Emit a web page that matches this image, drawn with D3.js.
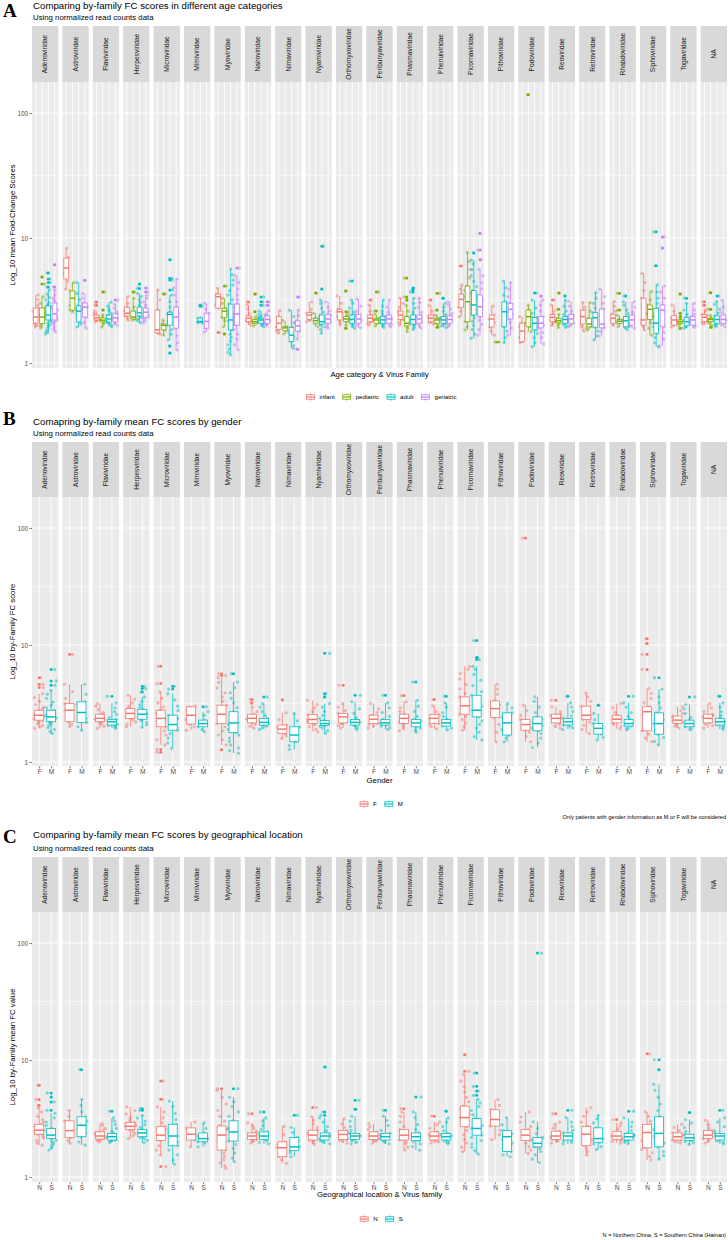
<!DOCTYPE html>
<html>
<head>
<meta charset="utf-8">
<script src="https://cdn.jsdelivr.net/npm/d3@7"></script>
<style>
  body { margin: 0; background: #fff; }
  svg { display: block; }
</style>
</head>
<body>
<div id="chart"></div>
<script>
const W = 728, H = 1240;
const FONT = "'Liberation Sans', Arial, Helvetica, sans-serif";

const families = ["Adenoviridae", "Astroviridae", "Flaviviridae", "Herpesviridae", "Microviridae",
  "Mimiviridae", "Myoviridae", "Nairoviridae", "Nimaviridae", "Nyamiviridae", "Orthomyxoviridae",
  "Peribunyaviridae", "Phasmaviridae", "Phenuiviridae", "Picornaviridae", "Pithoviridae",
  "Podoviridae", "Reoviridae", "Retroviridae", "Rhabdoviridae", "Siphoviridae", "Togaviridae", "NA"];
const ageGroups = ["infant", "pediatric", "adult", "geriatric"];
const genderGroups = ["F", "M"];
const regionGroups = ["N", "S"];
const yTicks = [1, 10, 100];
const yMinor = [3.162, 31.62];

// box stats per family: [lower whisker, q1, median, q3, upper whisker]
const ageStats = [
  [[1.94,2.09,2.33,2.75,3.5],[1.9,2.07,2.33,2.75,3.4],[1.71,2.21,2.42,2.86,3.84],[1.77,2.21,2.47,3.02,3.84]],
  [[3.9,4.7,5.75,6.9,8.3],[2.56,2.65,3.3,3.77,4.4],[1.94,2.13,2.6,2.86,4.4],[1.9,2.33,2.8,3.02,3.6]],
  [[2.13,2.21,2.3,2.42,2.6],[1.94,2.13,2.2,2.29,2.5],[1.95,2.13,2.25,2.42,3.07],[2.0,2.13,2.3,2.47,2.95]],
  [[2.2,2.38,2.5,2.8,3.4],[2.2,2.25,2.33,2.6,3.3],[2.1,2.38,2.52,2.8,3.6],[2.1,2.33,2.55,2.75,3.5]],
  [[1.7,1.74,1.84,2.65,3.84],[1.67,1.84,2.0,2.05,2.2],[1.53,2.01,2.45,2.55,3.5],[1.27,1.9,2.33,2.8,4.7]],
  [null,null,[2.09,2.1,2.15,2.29,2.3],[1.77,1.9,2.15,2.5,3.0]],
  [[2.75,2.75,3.39,3.56,3.98],[1.95,2.32,2.6,2.74,3.3],[1.16,1.84,2.21,2.96,5.65],[1.27,2.01,2.47,2.96,5.0]],
  [[2.01,2.14,2.28,2.38,2.91],[1.98,2.08,2.14,2.23,2.35],[1.95,2.08,2.21,2.28,2.6],[1.98,2.08,2.23,2.38,2.62]],
  [[1.73,1.86,2.08,2.35,2.62],[1.71,1.81,1.91,1.95,2.18],[1.31,1.48,1.67,1.93,2.65],[1.55,1.8,1.98,2.17,2.65]],
  [[2.14,2.23,2.42,2.53,3.09],[1.95,2.08,2.18,2.28,2.5],[1.73,2.05,2.14,2.42,3.19],[1.9,2.08,2.25,2.45,3.09]],
  [[2.01,2.21,2.57,2.69,3.44],[2.0,2.14,2.25,2.35,2.45],[1.9,2.08,2.23,2.42,3.19],[1.92,2.08,2.25,2.45,3.25]],
  [[2.0,2.14,2.28,2.42,2.9],[1.98,2.08,2.21,2.28,2.45],[1.92,2.08,2.21,2.35,3.19],[1.95,2.08,2.25,2.42,3.19]],
  [[2.01,2.23,2.42,2.6,3.3],[1.78,1.98,2.08,2.35,2.9],[1.85,2.05,2.23,2.42,3.3],[1.9,2.08,2.25,2.42,3.3]],
  [[2.05,2.14,2.28,2.42,2.9],[2.0,2.08,2.21,2.28,2.4],[1.92,2.08,2.21,2.35,3.0],[1.95,2.08,2.23,2.38,3.09]],
  [[2.35,2.79,3.23,3.56,4.21],[1.84,2.14,3.09,4.13,7.68],[1.58,2.42,2.91,3.79,6.67],[1.67,2.35,2.82,3.5,5.62]],
  [[1.67,1.94,2.25,2.42,2.86],[1.47,1.47,1.47,1.47,1.47],[1.45,1.95,2.57,3.09,4.53],[1.67,2.25,2.69,3.0,4.42]],
  [[1.45,1.48,1.8,2.08,2.35],[1.78,1.95,2.35,2.65,2.91],[1.35,1.84,2.08,2.32,3.19],[1.42,1.91,2.08,2.35,3.19]],
  [[2.0,2.14,2.32,2.45,2.91],[1.92,2.1,2.18,2.28,2.45],[1.92,2.08,2.23,2.35,3.19],[1.95,2.08,2.25,2.45,3.12]],
  [[1.8,2.05,2.35,2.65,3.05],[1.84,1.95,2.05,2.28,3.05],[1.53,1.93,2.3,2.53,3.65],[1.64,1.91,2.05,2.7,3.9]],
  [[2.0,2.08,2.28,2.46,3.12],[1.95,2.08,2.16,2.23,2.4],[1.85,1.95,2.18,2.35,3.09],[1.9,2.01,2.21,2.42,3.09]],
  [[1.84,2.01,2.21,3.3,5.22],[1.67,2.23,2.69,2.91,3.74],[1.35,1.73,2.08,2.74,4.21],[1.37,1.95,2.65,2.91,4.13]],
  [[1.95,2.01,2.21,2.39,2.91],[2.0,2.08,2.14,2.21,2.3],[1.9,1.98,2.14,2.32,3.0],[1.92,2.01,2.21,2.35,3.0]],
  [[2.05,2.14,2.32,2.45,2.7],[2.0,2.14,2.23,2.28,2.4],[1.95,2.08,2.23,2.38,3.12],[1.95,2.08,2.23,2.42,3.19]]
];
const ageOutliers = [
  [[],[4.87,4.28],[5.25,4.7,4.4,4.05],[6.1,4.05]], [[],[],[],[4.6]], [[2.9,3.07],[3.7,2.65],[],[3.19]],
  [[],[3.7],[4.28,3.95],[3.98,3.7]], [[],[3.57],[6.7,4.76,4.61,3.84,1.37,1.2],[]], [[],[],[2.9,2.85],[]],
  [[1.75],[4.13,1.71],[],[5.75]], [[3.08],[3.56,2.57],[3.38,3.09,2.9],[3.09,2.9]], [[],[],[],[3.38,1.29]],
  [[],[3.63],[8.6,3.9],[]], [[],[3.77,2.57,1.9],[4.53],[]], [[3.19],[3.7,2.61],[],[]],
  [[],[4.78,3.38,3.19],[3.98,3.84,3.7],[]], [[3.19],[3.61,2.65,1.93],[3.3],[]], [[5.97],[],[7.6],[10.9,8.0,6.7]],
  [[],[],[],[]], [[],[140],[3.63],[3.43]], [[3.19],[3.63,2.69],[3.44],[]], [[],[],[],[]],
  [[],[3.61,2.65],[3.44],[]], [[],[],[11.2,6.0],[10.2,8.3]], [[],[3.56,2.5,2.35,1.9],[3.3],[]],
  [[3.09,2.9],[3.65,2.69,1.93],[3.44],[]]
];
const agePoints = [
  ["1.94 2.0 2.05 2.1 2.2 2.3 2.33 2.45 2.6 2.75 2.9 3.2 3.5", "1.9 1.98 2.07 2.2 2.33 2.45 2.6 2.75 3.0 3.4 4.28 4.87",
   "1.71 1.76 1.82 1.9 1.96 2.02 2.08 2.14 2.2 2.26 2.32 2.38 2.42 2.48 2.55 2.62 2.7 2.78 2.86 2.95 3.05 3.2 3.35 3.55 3.84 4.05 4.4 4.7 5.25",
   "1.77 1.86 1.95 2.05 2.12 2.2 2.27 2.35 2.42 2.5 2.58 2.66 2.76 2.88 3.02 3.15 3.3 3.5 3.84 4.05 6.1"],
  ["3.9 4.5 5.2 5.75 6.3 7.0 8.3", "2.56 2.65 2.9 3.3 3.5 3.77 4.4", "1.94 2.05 2.13 2.3 2.45 2.6 2.7 2.86 3.2 3.6 4.4", "1.9 2.1 2.33 2.5 2.7 2.8 2.95 3.02 3.3 3.6 4.6"],
  ["2.13 2.18 2.21 2.26 2.3 2.35 2.42 2.5 2.6 2.9 3.07", "1.94 2.05 2.13 2.2 2.25 2.29 2.4 2.65 3.7",
   "1.95 2.0 2.06 2.1 2.13 2.17 2.2 2.23 2.26 2.3 2.34 2.38 2.42 2.5 2.6 2.7 2.85 3.07", "2.0 2.06 2.13 2.18 2.24 2.3 2.36 2.42 2.47 2.58 2.75 2.95 3.19"],
  ["2.2 2.3 2.38 2.45 2.5 2.6 2.7 2.8 3.0 3.4", "2.2 2.25 2.3 2.33 2.45 2.6 2.8 3.3 3.7",
   "2.1 2.18 2.25 2.32 2.38 2.44 2.5 2.56 2.62 2.7 2.8 2.9 3.05 3.2 3.4 3.6 3.95 4.28", "2.1 2.2 2.28 2.33 2.42 2.5 2.55 2.62 2.7 2.75 2.9 3.1 3.3 3.5 3.7 3.98"],
  ["1.7 1.74 1.84 1.9 2.2 2.65 3.2 3.84", "1.67 1.84 1.95 2.0 2.05 2.2 3.57",
   "1.2 1.37 1.53 1.7 1.85 2.01 2.15 2.3 2.45 2.5 2.55 2.8 3.1 3.5 3.84 4.61 4.76 6.7", "1.27 1.45 1.65 1.9 2.05 2.2 2.33 2.5 2.65 2.8 3.1 3.5 4.0 4.7"],
  [null, null, "2.09 2.1 2.15 2.2 2.29 2.3 2.85 2.9", "1.77 1.9 2.0 2.15 2.3 2.5 2.7 3.0"],
  ["1.75 2.75 2.9 3.2 3.39 3.5 3.56 3.98", "1.71 1.95 2.2 2.32 2.45 2.6 2.7 2.74 3.0 3.3 4.13",
   "1.16 1.22 1.3 1.4 1.5 1.6 1.7 1.84 1.95 2.05 2.15 2.21 2.3 2.45 2.6 2.75 2.96 3.2 3.5 3.8 4.2 4.6 5.1 5.65", "1.27 1.4 1.55 1.7 1.85 2.01 2.15 2.3 2.47 2.6 2.8 2.96 3.2 3.5 3.9 4.4 5.0 5.75"],
  ["2.01 2.08 2.14 2.2 2.28 2.33 2.38 2.5 2.7 2.91 3.08", "1.98 2.08 2.12 2.14 2.2 2.23 2.35 2.57 3.56",
   "1.95 2.0 2.04 2.08 2.11 2.14 2.17 2.21 2.24 2.28 2.32 2.38 2.45 2.6 2.9 3.09 3.38", "1.98 2.03 2.08 2.13 2.18 2.23 2.28 2.33 2.38 2.45 2.62 2.9 3.09"],
  ["1.73 1.8 1.86 1.95 2.08 2.2 2.35 2.62", "1.71 1.81 1.88 1.91 1.95 2.18", "1.31 1.38 1.48 1.55 1.62 1.67 1.74 1.82 1.93 2.1 2.35 2.65", "1.29 1.55 1.8 1.9 1.98 2.08 2.17 2.4 2.65 3.38"],
  ["2.14 2.2 2.23 2.3 2.42 2.5 2.53 2.7 3.09", "1.95 2.08 2.14 2.18 2.23 2.28 2.5 3.63",
   "1.73 1.85 1.95 2.02 2.05 2.1 2.14 2.18 2.22 2.28 2.35 2.42 2.55 2.75 3.0 3.19 3.9 8.6", "1.9 1.98 2.08 2.14 2.2 2.25 2.32 2.4 2.45 2.6 2.8 3.09"],
  ["2.01 2.1 2.21 2.35 2.5 2.57 2.65 2.69 3.0 3.44", "1.9 2.0 2.14 2.2 2.25 2.3 2.35 2.45 2.57 3.77",
   "1.9 1.97 2.04 2.08 2.12 2.17 2.23 2.28 2.34 2.42 2.55 2.75 3.0 3.19 4.53", "1.92 2.0 2.08 2.15 2.2 2.25 2.32 2.4 2.45 2.6 2.85 3.25"],
  ["2.0 2.08 2.14 2.2 2.28 2.35 2.42 2.6 2.9 3.19", "1.98 2.08 2.14 2.21 2.25 2.28 2.45 2.61 3.7",
   "1.92 1.98 2.04 2.08 2.13 2.18 2.21 2.25 2.3 2.35 2.45 2.6 2.85 3.19", "1.95 2.02 2.08 2.14 2.2 2.25 2.3 2.36 2.42 2.55 2.8 3.19"],
  ["2.01 2.1 2.23 2.3 2.42 2.5 2.6 2.8 3.0 3.3", "1.78 1.9 1.98 2.05 2.08 2.2 2.35 2.6 2.9 3.19 3.38 4.78",
   "1.85 1.92 2.0 2.05 2.1 2.16 2.23 2.28 2.34 2.42 2.55 2.75 3.0 3.3 3.7 3.84 3.98", "1.9 1.98 2.08 2.14 2.2 2.25 2.32 2.42 2.55 2.8 3.05 3.3"],
  ["2.05 2.1 2.14 2.2 2.28 2.34 2.42 2.6 2.9 3.19", "1.93 2.0 2.08 2.15 2.21 2.28 2.4 2.65 3.61",
   "1.92 1.98 2.04 2.08 2.13 2.18 2.21 2.26 2.3 2.35 2.45 2.6 2.8 3.0 3.3", "1.95 2.02 2.08 2.14 2.2 2.23 2.3 2.38 2.5 2.7 2.9 3.09"],
  ["2.35 2.6 2.79 3.0 3.23 3.4 3.56 3.9 4.21 5.97", "1.84 1.95 2.14 2.4 2.7 3.09 3.4 3.8 4.13 4.8 5.6 6.5 7.68",
   "1.58 1.7 1.85 2.0 2.15 2.3 2.42 2.55 2.7 2.8 2.91 3.05 3.2 3.4 3.6 3.79 4.1 4.5 5.0 5.6 6.2 6.67 7.6", "1.67 1.85 2.05 2.2 2.35 2.5 2.65 2.82 3.0 3.2 3.5 3.9 4.4 5.0 5.62 6.7 8.0 10.9"],
  ["1.67 1.8 1.94 2.1 2.25 2.35 2.42 2.86", "1.47 1.47", "1.45 1.6 1.8 1.95 2.2 2.4 2.57 2.8 3.09 3.5 4.0 4.53", "1.67 1.9 2.1 2.25 2.45 2.69 2.85 3.0 3.4 3.9 4.42"],
  ["1.45 1.48 1.6 1.8 1.95 2.08 2.35", "1.78 1.95 2.1 2.35 2.5 2.65 2.91 140",
   "1.35 1.45 1.6 1.72 1.84 1.95 2.02 2.08 2.15 2.25 2.32 2.5 2.75 3.19 3.63", "1.42 1.6 1.75 1.91 2.0 2.08 2.18 2.35 2.6 2.9 3.19 3.43"],
  ["2.0 2.08 2.14 2.22 2.32 2.38 2.45 2.6 2.91 3.19", "1.92 2.02 2.1 2.15 2.18 2.24 2.28 2.45 2.69 3.63",
   "1.92 1.98 2.04 2.08 2.12 2.17 2.23 2.28 2.35 2.45 2.6 2.85 3.19 3.44", "1.95 2.02 2.08 2.14 2.2 2.25 2.32 2.4 2.45 2.6 2.85 3.12"],
  ["1.8 1.95 2.05 2.2 2.35 2.5 2.65 2.8 3.05", "1.84 1.9 1.95 2.05 2.15 2.28 2.6 3.05",
   "1.53 1.65 1.8 1.93 2.05 2.2 2.3 2.4 2.53 2.75 3.0 3.3 3.65", "1.64 1.78 1.91 2.0 2.05 2.2 2.45 2.7 3.0 3.4 3.9"],
  ["2.0 2.08 2.15 2.22 2.28 2.36 2.46 2.6 2.85 3.12", "1.95 2.08 2.12 2.16 2.2 2.23 2.4 2.65 3.61",
   "1.85 1.92 1.95 2.02 2.08 2.13 2.18 2.24 2.3 2.35 2.48 2.65 2.9 3.09 3.44", "1.9 1.97 2.01 2.08 2.14 2.21 2.28 2.35 2.42 2.55 2.8 3.09"],
  ["1.84 1.95 2.01 2.1 2.21 2.5 2.9 3.3 3.8 4.4 5.22", "1.67 1.9 2.1 2.23 2.45 2.69 2.8 2.91 3.2 3.74",
   "1.35 1.45 1.6 1.73 1.85 1.95 2.08 2.2 2.35 2.5 2.74 3.0 3.3 3.7 4.21 6.0 11.2", "1.37 1.55 1.75 1.95 2.2 2.45 2.65 2.8 2.91 3.3 3.7 4.13 8.3 10.2"],
  ["1.95 2.01 2.08 2.14 2.21 2.3 2.39 2.6 2.91", "1.9 2.0 2.08 2.12 2.14 2.18 2.21 2.3 2.35 2.5 3.56",
   "1.9 1.94 1.98 2.04 2.08 2.11 2.14 2.18 2.23 2.32 2.45 2.65 3.0 3.3", "1.92 1.97 2.01 2.08 2.14 2.21 2.28 2.35 2.45 2.65 3.0"],
  ["2.05 2.1 2.14 2.22 2.32 2.4 2.45 2.6 2.7 2.9 3.09", "1.93 2.0 2.08 2.14 2.2 2.23 2.28 2.4 2.69 3.65",
   "1.95 2.0 2.04 2.08 2.13 2.18 2.23 2.28 2.33 2.38 2.5 2.7 2.95 3.12 3.44", "1.95 2.02 2.08 2.14 2.2 2.25 2.32 2.42 2.55 2.8 3.19"]
];

const genderStats = [
  [[1.94,2.28,2.51,2.77,3.84],[1.75,2.21,2.43,2.77,4.1]], [[2.0,2.21,2.77,3.16,4.62],[1.87,2.18,2.65,3.27,4.62]],
  [[1.94,2.21,2.36,2.56,3.16],[1.94,2.07,2.21,2.31,3.2]], [[2.0,2.36,2.6,2.86,3.72],[1.98,2.32,2.56,2.82,3.6]],
  [[1.4,2.0,2.36,2.77,3.97],[1.31,1.87,2.09,2.51,3.84]], [[1.87,2.11,2.51,2.96,3.0],[1.81,2.0,2.13,2.28,2.69]],
  [[1.4,2.13,2.56,3.06,5.26],[1.19,1.78,2.16,2.69,4.83]], [[1.94,2.16,2.36,2.56,2.96],[1.9,2.07,2.18,2.36,3.16]],
  [[1.59,1.75,1.91,2.07,2.63],[1.28,1.49,1.7,2.0,2.6]], [[1.81,2.13,2.31,2.54,3.37],[1.75,2.05,2.13,2.26,3.16]],
  [[1.95,2.16,2.43,2.6,3.16],[1.9,2.07,2.18,2.31,3.27]], [[1.95,2.13,2.32,2.51,3.16],[1.9,2.07,2.16,2.31,3.2]],
  [[1.85,2.13,2.36,2.56,3.27],[1.8,2.0,2.16,2.31,3.37]], [[1.92,2.13,2.36,2.54,3.02],[1.88,2.03,2.16,2.31,3.2]],
  [[1.87,2.56,3.02,3.6,6.57],[1.54,2.43,2.77,3.72,6.57]], [[1.49,2.4,2.86,3.33,4.62],[1.49,1.7,2.16,2.63,3.16]],
  [[1.49,1.87,2.09,2.31,3.06],[1.33,1.85,2.13,2.43,3.6]], [[1.95,2.16,2.36,2.56,2.96],[1.9,2.07,2.21,2.36,3.2]],
  [[1.75,2.31,2.51,3.0,3.9],[1.54,1.73,1.94,2.13,2.6]], [[1.92,2.16,2.32,2.51,3.16],[1.88,2.03,2.13,2.31,3.2]],
  [[1.49,1.85,2.69,2.96,4.24],[1.4,1.73,2.13,2.63,4.2]], [[1.95,2.13,2.28,2.47,2.96],[1.88,2.0,2.13,2.28,3.1]],
  [[1.95,2.16,2.36,2.56,3.16],[1.9,2.07,2.21,2.36,3.2]]
];
const genderOutliers = [
  [[5.26,4.62,4.33],[6.16,4.93,4.53]], [[8.32],[]], [[],[3.65]], [[],[4.44,4.24,3.97]], [[6.57,4.68,1.28,1.21],[4.44,4.2]],
  [[],[2.96]], [[5.69,5.5,1.27],[5.69]], [[3.42,3.2],[3.6]], [[3.4],[]], [[],[8.5,3.84,3.6]], [[4.53],[3.72]],
  [[],[3.72]], [[3.7],[4.83]], [[3.42],[3.65]], [[],[10.9,7.8,7.5]], [[],[]], [[82],[]], [[3.37],[3.65]],
  [[],[3.06]], [[],[3.65]], [[11.3,10.3,8.32,6.16],[5.26]], [[],[3.6]], [[],[3.65]]
];
const genderPoints = [
  ["1.94 2.0 2.06 2.12 2.18 2.24 2.28 2.33 2.38 2.43 2.48 2.51 2.56 2.62 2.68 2.77 2.86 2.95 3.1 3.3 3.55 3.84 4.33 4.62 5.26",
   "1.75 1.82 1.9 1.97 2.05 2.12 2.18 2.21 2.26 2.32 2.38 2.43 2.5 2.57 2.65 2.77 2.9 3.05 3.25 3.5 3.8 4.1 4.53 4.93 6.16"],
  ["2.0 2.1 2.21 2.4 2.6 2.77 2.9 3.16 3.5 4.0 4.62 8.32", "1.87 2.0 2.18 2.35 2.5 2.65 2.9 3.1 3.27 3.8 4.62"],
  ["1.94 2.02 2.1 2.16 2.21 2.26 2.3 2.34 2.36 2.4 2.45 2.5 2.56 2.65 2.8 3.0 3.16", "1.94 1.98 2.02 2.05 2.07 2.1 2.13 2.16 2.19 2.21 2.24 2.28 2.31 2.4 2.55 2.7 2.9 3.2 3.65"],
  ["2.0 2.1 2.2 2.28 2.36 2.42 2.5 2.56 2.6 2.66 2.72 2.8 2.86 3.0 3.2 3.45 3.72", "1.98 2.08 2.18 2.26 2.32 2.4 2.46 2.52 2.56 2.62 2.7 2.76 2.82 2.95 3.1 3.3 3.6 3.97 4.24 4.44"],
  ["1.21 1.28 1.4 1.55 1.7 1.85 2.0 2.15 2.28 2.36 2.48 2.6 2.77 2.95 3.2 3.5 3.97 4.68 6.57", "1.31 1.45 1.6 1.75 1.87 1.98 2.09 2.2 2.35 2.51 2.75 3.0 3.4 3.84 4.2 4.44"],
  ["1.87 2.0 2.11 2.3 2.51 2.7 2.96 3.0", "1.81 1.9 2.0 2.08 2.13 2.2 2.28 2.5 2.69 2.96"],
  ["1.27 1.4 1.55 1.7 1.85 2.0 2.13 2.25 2.4 2.56 2.7 2.85 3.06 3.3 3.6 3.9 4.3 4.8 5.26 5.5 5.69", "1.19 1.25 1.32 1.4 1.5 1.6 1.7 1.78 1.9 2.0 2.1 2.16 2.3 2.45 2.69 2.9 3.2 3.5 3.9 4.3 4.83 5.69"],
  ["1.94 2.02 2.1 2.16 2.22 2.28 2.33 2.36 2.42 2.48 2.56 2.7 2.96 3.2 3.42", "1.9 1.96 2.02 2.07 2.11 2.15 2.18 2.22 2.27 2.31 2.36 2.5 2.7 2.95 3.16 3.6"],
  ["1.59 1.68 1.75 1.84 1.91 1.98 2.07 2.3 2.63 3.4", "1.28 1.38 1.49 1.58 1.65 1.7 1.8 1.9 2.0 2.25 2.6"],
  ["1.81 1.9 2.0 2.08 2.13 2.2 2.26 2.31 2.37 2.45 2.54 2.7 2.9 3.1 3.37", "1.75 1.85 1.95 2.02 2.05 2.09 2.13 2.17 2.22 2.26 2.35 2.5 2.7 2.95 3.16 3.6 3.84 8.5"],
  ["1.95 2.05 2.12 2.16 2.22 2.3 2.36 2.43 2.5 2.6 2.75 2.95 3.16 4.53", "1.9 1.97 2.03 2.07 2.12 2.16 2.18 2.22 2.26 2.31 2.4 2.6 2.85 3.27 3.72"],
  ["1.95 2.03 2.1 2.13 2.2 2.26 2.32 2.38 2.45 2.51 2.65 2.85 3.16", "1.9 1.96 2.02 2.07 2.11 2.14 2.16 2.2 2.25 2.31 2.45 2.65 2.9 3.2 3.72"],
  ["1.85 1.95 2.05 2.13 2.2 2.28 2.36 2.44 2.5 2.56 2.7 2.9 3.27 3.7", "1.8 1.88 1.95 2.0 2.05 2.1 2.16 2.21 2.26 2.31 2.45 2.7 3.0 3.37 4.83"],
  ["1.92 2.0 2.08 2.13 2.2 2.27 2.36 2.42 2.48 2.54 2.7 3.02 3.42", "1.88 1.95 2.03 2.08 2.12 2.16 2.2 2.25 2.31 2.45 2.65 2.95 3.2 3.65"],
  ["1.87 2.0 2.15 2.3 2.45 2.56 2.7 2.85 3.02 3.2 3.4 3.6 3.85 4.2 4.6 5.1 5.7 6.2 6.57", "1.54 1.65 1.8 1.95 2.1 2.25 2.43 2.6 2.77 3.0 3.25 3.5 3.72 4.0 4.5 5.0 5.6 6.2 6.57 7.5 7.8 10.9"],
  ["1.49 1.8 2.1 2.4 2.6 2.86 3.1 3.33 3.8 4.2 4.62", "1.49 1.6 1.7 1.9 2.16 2.4 2.63 2.9 3.16"],
  ["1.49 1.65 1.8 1.87 1.95 2.02 2.09 2.16 2.23 2.31 2.5 2.75 3.06 82", "1.33 1.45 1.6 1.75 1.85 1.95 2.05 2.13 2.22 2.32 2.43 2.65 2.95 3.3 3.6"],
  ["1.95 2.03 2.1 2.16 2.22 2.28 2.33 2.36 2.42 2.48 2.56 2.7 2.96 3.37", "1.9 1.96 2.02 2.07 2.12 2.16 2.21 2.26 2.31 2.36 2.48 2.7 2.95 3.2 3.65"],
  ["1.75 1.9 2.05 2.2 2.31 2.4 2.51 2.65 2.8 3.0 3.3 3.6 3.9", "1.54 1.62 1.73 1.8 1.88 1.94 2.02 2.08 2.13 2.3 2.6 3.06"],
  ["1.92 2.02 2.1 2.16 2.22 2.28 2.32 2.38 2.44 2.51 2.65 2.9 3.16", "1.88 1.95 2.03 2.08 2.11 2.13 2.18 2.23 2.31 2.45 2.65 2.95 3.2 3.65"],
  ["1.49 1.6 1.73 1.85 2.0 2.2 2.4 2.55 2.69 2.8 2.96 3.2 3.5 3.85 4.24 6.16 8.32 10.3 11.3", "1.4 1.5 1.62 1.73 1.85 1.98 2.13 2.3 2.45 2.63 2.9 3.2 3.6 4.2 5.26"],
  ["1.95 2.02 2.08 2.13 2.18 2.24 2.28 2.33 2.4 2.47 2.6 2.75 2.96", "1.88 1.94 2.0 2.05 2.09 2.13 2.17 2.22 2.28 2.4 2.6 2.85 3.1 3.6"],
  ["1.95 2.04 2.1 2.16 2.22 2.29 2.36 2.42 2.5 2.56 2.7 2.9 3.16", "1.9 1.96 2.02 2.07 2.12 2.17 2.21 2.26 2.31 2.36 2.5 2.7 2.95 3.2 3.65"]
];

const regionStats = [
  [[1.87,2.32,2.51,2.82,3.9],[1.7,2.13,2.28,2.6,3.5]], [[1.94,2.18,2.49,3.02,3.72],[1.87,2.21,2.77,3.27,4.62]],
  [[2.0,2.11,2.24,2.43,2.86],[1.98,2.07,2.21,2.36,3.2]], [[2.13,2.54,2.71,2.92,3.97],[1.96,2.21,2.38,2.54,3.37]],
  [[1.54,2.05,2.28,2.69,3.97],[1.29,1.85,2.24,2.82,4.46]], [[1.81,2.07,2.32,2.63,2.96],[1.81,2.0,2.13,2.38,2.9]],
  [[1.19,1.7,2.28,2.73,5.5],[1.35,2.03,2.43,3.02,4.83]], [[1.95,2.09,2.24,2.38,2.9],[1.92,2.09,2.24,2.43,3.2]],
  [[1.31,1.49,1.78,2.0,2.71],[1.49,1.68,1.81,2.18,2.65]], [[1.9,2.07,2.28,2.51,3.27],[1.92,2.07,2.24,2.38,3.2]],
  [[1.95,2.09,2.31,2.49,3.16],[1.92,2.09,2.24,2.36,3.3]], [[1.95,2.09,2.24,2.43,2.86],[1.92,2.07,2.21,2.36,3.31]],
  [[1.7,2.07,2.28,2.54,3.6],[1.7,2.05,2.21,2.38,3.6]], [[1.95,2.07,2.24,2.43,2.95],[1.92,2.07,2.21,2.36,3.2]],
  [[1.65,2.69,3.22,4.03,7.54],[1.57,2.28,2.6,3.16,4.6]], [[2.09,2.73,3.1,3.76,4.6],[1.49,1.65,2.21,2.49,3.22]],
  [[1.59,2.05,2.28,2.54,3.6],[1.33,1.81,1.94,2.18,2.96]], [[1.95,2.09,2.24,2.46,2.95],[1.92,2.07,2.24,2.38,3.22]],
  [[1.54,1.85,2.32,2.71,3.92],[1.72,1.98,2.13,2.63,3.37]], [[1.95,2.09,2.24,2.46,2.9],[1.92,2.07,2.21,2.36,3.2]],
  [[1.4,1.78,2.4,2.82,3.6],[1.42,1.81,2.36,3.27,6.2]], [[1.95,2.07,2.21,2.38,2.82],[1.9,2.05,2.16,2.32,3.1]],
  [[1.95,2.13,2.28,2.49,3.06],[1.92,2.07,2.24,2.36,3.2]]
];
const regionOutliers = [
  [[6.08,4.6,4.1],[5.23,4.83,4.38,3.72]], [[],[8.27]], [[],[3.65]], [[],[3.84,3.72]], [[6.62,4.62,1.23],[]],
  [[],[]], [[5.69],[5.69]], [[3.48],[3.6]], [[],[3.37]], [[3.92],[8.7,3.6,3.37]], [[],[4.53,3.8]], [[],[3.72]],
  [[3.84],[4.83]], [[3.31],[3.65]], [[11.1,8.0],[7.74,5.96,5.44,4.99]], [[],[]], [[],[82]], [[3.48],[3.72]],
  [[],[]], [[3.1],[3.65]], [[11.3],[10.05,8.27]], [[],[3.56]], [[],[3.72]]
];
const regionPoints = [
  ["1.87 1.95 2.05 2.15 2.22 2.28 2.32 2.38 2.44 2.51 2.58 2.65 2.72 2.82 2.95 3.1 3.3 3.6 3.9 4.1 4.6 6.08",
   "1.7 1.78 1.86 1.94 2.0 2.06 2.13 2.18 2.22 2.28 2.33 2.4 2.5 2.6 2.75 2.95 3.2 3.5 3.72 4.38 4.83 5.23"],
  ["1.94 2.05 2.18 2.3 2.49 2.7 3.02 3.3 3.72", "1.87 2.0 2.21 2.4 2.6 2.77 3.0 3.27 3.6 4.1 4.62 8.27"],
  ["2.0 2.04 2.08 2.11 2.14 2.18 2.21 2.24 2.28 2.32 2.37 2.43 2.5 2.6 2.75 2.86", "1.98 2.02 2.05 2.07 2.1 2.13 2.16 2.19 2.21 2.25 2.3 2.36 2.45 2.6 2.8 3.0 3.2 3.65"],
  ["2.13 2.25 2.35 2.45 2.54 2.6 2.66 2.71 2.77 2.84 2.92 3.05 3.2 3.45 3.7 3.97", "1.96 2.05 2.12 2.18 2.21 2.26 2.3 2.35 2.38 2.43 2.48 2.54 2.65 2.8 3.0 3.2 3.37 3.72 3.84"],
  ["1.23 1.54 1.7 1.85 2.05 2.15 2.28 2.4 2.55 2.69 2.9 3.2 3.6 3.97 4.62 6.62", "1.29 1.4 1.55 1.7 1.85 2.0 2.15 2.24 2.4 2.6 2.82 3.1 3.5 4.0 4.46"],
  ["1.81 2.07 2.2 2.32 2.5 2.63 2.96", "1.81 1.95 2.0 2.1 2.13 2.2 2.38 2.6 2.9"],
  ["1.19 1.25 1.32 1.4 1.5 1.6 1.7 1.85 2.0 2.15 2.28 2.4 2.55 2.73 3.0 3.3 3.7 4.2 4.8 5.5 5.69", "1.35 1.45 1.6 1.75 1.9 2.03 2.15 2.3 2.43 2.6 2.8 3.02 3.3 3.6 4.0 4.4 4.83 5.69"],
  ["1.95 2.02 2.06 2.09 2.13 2.17 2.21 2.24 2.28 2.32 2.38 2.45 2.6 2.75 2.9 3.48", "1.92 1.98 2.03 2.09 2.13 2.17 2.21 2.24 2.28 2.34 2.43 2.55 2.75 3.0 3.2 3.6"],
  ["1.31 1.4 1.49 1.6 1.7 1.78 1.9 2.0 2.3 2.71", "1.49 1.6 1.68 1.75 1.81 1.9 2.05 2.18 2.4 2.65 3.37"],
  ["1.9 1.98 2.04 2.07 2.12 2.18 2.24 2.28 2.34 2.4 2.51 2.65 2.85 3.05 3.27 3.92", "1.92 1.98 2.04 2.07 2.11 2.15 2.2 2.24 2.28 2.33 2.38 2.5 2.7 2.95 3.2 3.37 3.6 8.7"],
  ["1.95 2.02 2.06 2.09 2.14 2.2 2.26 2.31 2.37 2.43 2.49 2.65 2.85 3.16", "1.92 1.98 2.04 2.09 2.13 2.18 2.22 2.26 2.3 2.36 2.5 2.7 3.0 3.3 3.8 4.53"],
  ["1.95 2.02 2.06 2.09 2.14 2.19 2.24 2.29 2.34 2.43 2.55 2.7 2.86", "1.92 1.98 2.03 2.07 2.12 2.17 2.21 2.26 2.31 2.36 2.5 2.75 3.05 3.31 3.72"],
  ["1.7 1.8 1.92 2.0 2.07 2.14 2.22 2.28 2.35 2.45 2.54 2.7 2.95 3.3 3.6 3.84", "1.7 1.82 1.92 2.0 2.05 2.1 2.16 2.21 2.26 2.32 2.38 2.55 2.8 3.2 3.6 4.83"],
  ["1.95 2.0 2.04 2.07 2.12 2.17 2.21 2.24 2.3 2.36 2.43 2.6 2.8 2.95 3.31", "1.92 1.98 2.03 2.07 2.12 2.17 2.21 2.25 2.3 2.36 2.48 2.7 2.95 3.2 3.65"],
  ["1.65 1.8 1.95 2.1 2.3 2.5 2.69 2.85 3.0 3.22 3.4 3.6 3.8 4.03 4.4 4.8 5.3 5.9 6.6 7.54 8.0 11.1",
   "1.57 1.68 1.8 1.92 2.05 2.18 2.28 2.4 2.5 2.6 2.75 2.9 3.05 3.16 3.4 3.7 4.0 4.3 4.6 4.99 5.44 5.96 7.74"],
  ["2.09 2.3 2.5 2.73 2.9 3.1 3.3 3.5 3.76 4.1 4.6", "1.49 1.55 1.65 1.8 1.95 2.1 2.21 2.35 2.49 2.8 3.22"],
  ["1.59 1.7 1.82 1.95 2.05 2.15 2.22 2.28 2.35 2.45 2.54 2.7 2.95 3.25 3.6", "1.33 1.42 1.55 1.65 1.75 1.81 1.87 1.94 2.0 2.08 2.18 2.35 2.6 2.96 82"],
  ["1.95 2.02 2.06 2.09 2.14 2.19 2.24 2.29 2.34 2.4 2.46 2.6 2.8 2.95 3.48", "1.92 1.98 2.03 2.07 2.12 2.17 2.21 2.24 2.29 2.34 2.38 2.5 2.7 2.95 3.22 3.72"],
  ["1.54 1.65 1.75 1.85 1.95 2.1 2.2 2.32 2.45 2.6 2.71 2.95 3.3 3.6 3.92", "1.72 1.82 1.92 1.98 2.05 2.1 2.13 2.2 2.35 2.5 2.63 2.9 3.15 3.37"],
  ["1.95 2.02 2.06 2.09 2.14 2.19 2.24 2.29 2.34 2.4 2.46 2.6 2.75 2.9 3.1", "1.92 1.98 2.03 2.07 2.11 2.16 2.21 2.25 2.3 2.36 2.48 2.7 2.95 3.2 3.65"],
  ["1.4 1.5 1.62 1.72 1.78 1.9 2.05 2.2 2.4 2.55 2.7 2.82 3.0 3.3 3.6 11.3", "1.42 1.52 1.65 1.81 1.95 2.1 2.25 2.36 2.55 2.8 3.05 3.27 3.7 4.2 4.8 5.5 6.2 8.27 10.05"],
  ["1.95 2.0 2.04 2.07 2.11 2.16 2.21 2.26 2.31 2.38 2.5 2.65 2.82", "1.9 1.96 2.01 2.05 2.09 2.13 2.16 2.2 2.25 2.32 2.45 2.65 2.9 3.1 3.56"],
  ["1.95 2.03 2.08 2.13 2.18 2.23 2.28 2.33 2.4 2.49 2.6 2.8 3.06", "1.92 1.98 2.03 2.07 2.12 2.17 2.21 2.24 2.29 2.36 2.48 2.7 2.95 3.2 3.72"]
];

const panels = [
  { letter: "A", title: "Comparing by-family FC scores in different age categories", sub: "Using normalized read counts data",
    yTitle: "Log_10 mean Fold-Change Scores", xTitle: "Age category & Virus Family",
    groups: ageGroups, colors: ["#F8766D", "#7CAE00", "#00BFC4", "#C77CFF"],
    stats: ageStats, outs: ageOutliers, pts: agePoints, xTicks: false, note: null,
    letterY: 17, titleY: 9, subY: 20, stripTop: 26, plotTop: 82, plotBottom: 368, yRange: [363, 113],
    xTitleY: 377, legendY: 397 },
  { letter: "B", title: "Comapring by-family mean FC scores by gender", sub: "Using normalized read counts data",
    yTitle: "Log_10 by-Family FC score", xTitle: "Gender",
    groups: genderGroups, colors: ["#F8766D", "#00BFC4"],
    stats: genderStats, outs: genderOutliers, pts: genderPoints, xTicks: true,
    note: "Only patients with gender information as M or F will be considered",
    letterY: 425, titleY: 425, subY: 436, stripTop: 442, plotTop: 497, plotBottom: 766, yRange: [762, 528],
    xTitleY: 783, legendY: 804, noteY: 819 },
  { letter: "C", title: "Comparing by-family mean FC scores by geographical location", sub: "Using normalized read counts data",
    yTitle: "Log_10 by-Family mean FC value", xTitle: "Geographical location & Virus family",
    groups: regionGroups, colors: ["#F8766D", "#00BFC4"],
    stats: regionStats, outs: regionOutliers, pts: regionPoints, xTicks: true,
    note: "N = Northern China, S = Southern China (Hainan)",
    letterY: 843, titleY: 838, subY: 851, stripTop: 857, plotTop: 912, plotBottom: 1182, yRange: [1177, 943],
    xTitleY: 1196.5, legendY: 1219, noteY: 1237 }
];

const svg = d3.create("svg")
    .attr("width", W)
    .attr("height", H)
    .attr("viewBox", [0, 0, W, H])
    .attr("font-family", FONT);
document.getElementById("chart").appendChild(svg.node());

svg.append("rect").attr("width", W).attr("height", H).attr("fill", "#fff");

const facet = d3.scaleBand().domain(families).range([32, 727]).paddingInner(0.135);
const jitter = d3.randomUniform.source(d3.randomLcg(0.4217))(-1, 1);
const parse = s => s ? s.split(" ").map(Number) : [];

panels.forEach(p => {
  const g = svg.append("g");
  const y = d3.scaleLog().domain([1, 100]).range(p.yRange);
  const color = d3.scaleOrdinal(p.groups, p.colors);

  g.append("text")
      .attr("x", 3).attr("y", p.letterY)
      .attr("font-family", "'Liberation Serif', 'Times New Roman', serif")
      .attr("font-weight", "bold").attr("font-size", 19)
      .text(p.letter);
  g.append("text").attr("x", 33).attr("y", p.titleY).attr("font-size", 9.7).text(p.title);
  g.append("text").attr("x", 33).attr("y", p.subY).attr("font-size", 7.8).text(p.sub);

  families.forEach((fam, fi) => {
    const fx = facet(fam), fw = facet.bandwidth();
    const x = d3.scalePoint().domain(p.groups).range([fx, fx + fw]).padding(0.6);
    const step = x.step();
    const bw = 0.75 * step;
    const fg = g.append("g");

    // strip
    fg.append("rect")
        .attr("x", fx).attr("y", p.stripTop)
        .attr("width", fw).attr("height", p.plotTop - p.stripTop)
        .attr("fill", "#D9D9D9");
    fg.append("text")
        .attr("transform", `translate(${fx + fw / 2},${(p.stripTop + p.plotTop) / 2}) rotate(-90)`)
        .attr("text-anchor", "middle").attr("dy", "0.35em")
        .attr("font-size", 6.6).attr("fill", "#1A1A1A")
        .text(fam);

    // panel + grid
    fg.append("rect")
        .attr("x", fx).attr("y", p.plotTop)
        .attr("width", fw).attr("height", p.plotBottom - p.plotTop)
        .attr("fill", "#EBEBEB");
    fg.selectAll(".gmin").data(yMinor).join("line")
        .attr("x1", fx).attr("x2", fx + fw)
        .attr("y1", d => y(d)).attr("y2", d => y(d))
        .attr("stroke", "#fff").attr("stroke-width", 0.45);
    fg.selectAll(".gmaj").data(yTicks).join("line")
        .attr("x1", fx).attr("x2", fx + fw)
        .attr("y1", d => y(d)).attr("y2", d => y(d))
        .attr("stroke", "#fff").attr("stroke-width", 0.9);
    fg.selectAll(".gx").data(p.groups).join("line")
        .attr("x1", d => x(d)).attr("x2", d => x(d))
        .attr("y1", p.plotTop).attr("y2", p.plotBottom)
        .attr("stroke", "#fff").attr("stroke-width", 0.9);

    // jittered points
    p.groups.forEach((grp, gi) => {
      const s = p.stats[fi][gi];
      if (!s) return;
      const out = p.outs[fi][gi];
      const vals = parse(p.pts[fi][gi]);
      const all = vals.concat(out.filter(o => !vals.includes(o)));
      fg.append("g").selectAll("circle").data(all).join("circle")
          .attr("cx", () => x(grp) + jitter() * 0.45 * step)
          .attr("cy", d => y(d))
          .attr("r", 1.6)
          .attr("fill", color(grp))
          .attr("fill-opacity", 0.5);
    });

    // boxplots
    p.groups.forEach((grp, gi) => {
      const s = p.stats[fi][gi];
      if (!s) return;
      const cx = x(grp), c = color(grp);
      const [lo, q1, med, q3, hi] = s;
      const bg = fg.append("g").attr("stroke", c);
      bg.append("line").attr("x1", cx).attr("x2", cx).attr("y1", y(q3)).attr("y2", y(hi)).attr("stroke-width", 0.8);
      bg.append("line").attr("x1", cx).attr("x2", cx).attr("y1", y(q1)).attr("y2", y(lo)).attr("stroke-width", 0.8);
      bg.append("rect")
          .attr("x", cx - bw / 2).attr("y", y(q3))
          .attr("width", bw).attr("height", Math.max(0, y(q1) - y(q3)))
          .attr("fill", "#fff").attr("stroke-width", 0.8);
      bg.append("line")
          .attr("x1", cx - bw / 2).attr("x2", cx + bw / 2)
          .attr("y1", y(med)).attr("y2", y(med))
          .attr("stroke-width", 1.5);
      fg.append("g").selectAll("circle").data(p.outs[fi][gi]).join("circle")
          .attr("cx", cx).attr("cy", d => y(d)).attr("r", 1.5)
          .attr("fill", c);
    });

    if (p.xTicks) {
      const xa = fg.append("g")
          .attr("transform", `translate(0,${p.plotBottom})`)
          .call(d3.axisBottom(x).tickSize(2.4).tickPadding(1.4));
      xa.select(".domain").remove();
      xa.attr("font-size", 6.6).attr("font-family", FONT);
      xa.selectAll("line").attr("stroke", "#333").attr("stroke-width", 0.6);
      xa.selectAll("text").attr("fill", "#4D4D4D");
    }
  });

  // y axis
  const ya = g.append("g")
      .attr("transform", "translate(32,0)")
      .call(d3.axisLeft(y).tickValues(yTicks).tickFormat(d3.format("d")).tickSize(2.6).tickPadding(1.5));
  ya.select(".domain").remove();
  ya.attr("font-size", 6.3).attr("font-family", FONT);
  ya.selectAll("line").attr("stroke", "#333").attr("stroke-width", 0.6);
  ya.selectAll("text").attr("fill", "#4D4D4D");

  g.append("text")
      .attr("transform", `translate(15,${(p.plotTop + p.plotBottom) / 2}) rotate(-90)`)
      .attr("text-anchor", "middle").attr("font-size", 7.8)
      .text(p.yTitle);
  g.append("text")
      .attr("x", 379.5).attr("y", p.xTitleY)
      .attr("text-anchor", "middle").attr("font-size", 7.8)
      .text(p.xTitle);

  // legend
  const keyW = 10, keyH = 9;
  const lg = g.append("g");
  const items = lg.selectAll("g").data(p.groups).join("g");
  items.append("line")
      .attr("x1", keyW / 2).attr("x2", keyW / 2)
      .attr("y1", -keyH * 0.4).attr("y2", keyH * 0.4)
      .attr("stroke", d => color(d)).attr("stroke-width", 0.8);
  items.append("rect")
      .attr("x", keyW * 0.1).attr("y", -keyH * 0.25)
      .attr("width", keyW * 0.8).attr("height", keyH * 0.5)
      .attr("fill", "#fff").attr("stroke", d => color(d)).attr("stroke-width", 0.8);
  items.append("line")
      .attr("x1", keyW * 0.1).attr("x2", keyW * 0.9)
      .attr("y1", 0).attr("y2", 0)
      .attr("stroke", d => color(d)).attr("stroke-width", 1.2);
  items.append("text")
      .attr("x", keyW + 4).attr("dy", "0.35em")
      .attr("font-size", 6.2).attr("fill", "#000")
      .text(d => d);
  let off = 0;
  const offs = [];
  items.each(function () {
    offs.push(off);
    off += keyW + 4 + this.querySelector("text").getComputedTextLength() + 7;
  });
  const total = off - 7;
  items.attr("transform", (d, i) => `translate(${381 - total / 2 + offs[i]},${p.legendY})`);

  if (p.note) {
    g.append("text")
        .attr("x", 726).attr("y", p.noteY)
        .attr("text-anchor", "end").attr("font-size", 5.6)
        .text(p.note);
  }
});
</script>
</body>
</html>
